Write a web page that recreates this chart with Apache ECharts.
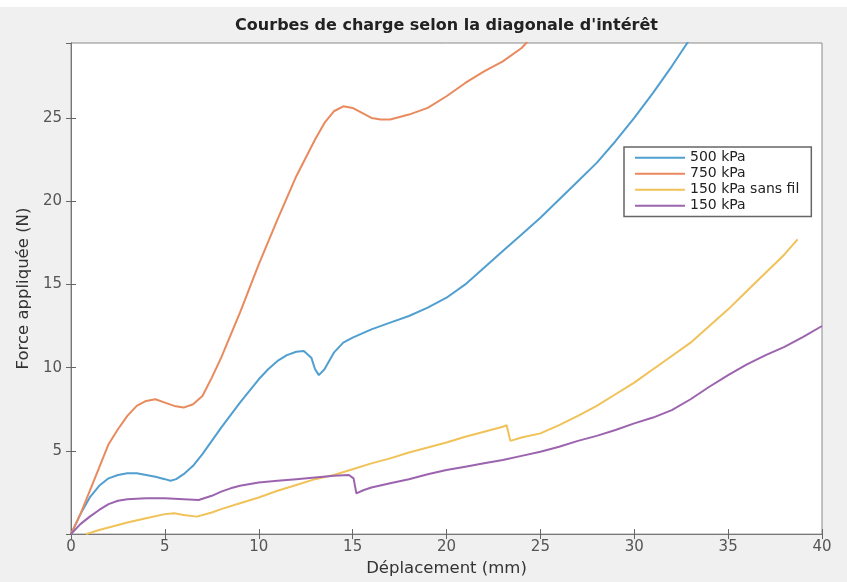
<!DOCTYPE html>
<html>
<head>
<meta charset="utf-8">
<script src="https://cdn.jsdelivr.net/npm/echarts@6/dist/echarts.min.js"></script>
<style>html,body{margin:0;padding:0;background:#f0f0f0}#c{width:847px;height:582px}</style>
</head>
<body>
<div id="c"></div>
<script>
var titleText = "Courbes de charge selon la diagonale d'intérêt";
var xName = "Déplacement (mm)";
var yName = "Force appliquée (N)";
var seriesNames = ["500 kPa", "750 kPa", "150 kPa sans fil", "150 kPa"];
var xTicks = [0, 5, 10, 15, 20, 25, 30, 35, 40];
var yTicks = [5, 10, 15, 20, 25];

var s500 = [[0,0],[0.5,1.2],[1,2.2],[1.5,2.9],[2,3.35],[2.5,3.55],[3,3.65],[3.5,3.65],[4,3.55],[4.5,3.45],[5,3.3],[5.3,3.2],[5.6,3.3],[6,3.6],[6.5,4.1],[7,4.8],[8,6.4],[9,7.9],[10,9.3],[10.5,9.9],[11,10.4],[11.5,10.75],[12,10.95],[12.4,11.0],[12.8,10.6],[13,9.9],[13.2,9.55],[13.5,9.9],[14,10.9],[14.5,11.5],[15,11.8],[16,12.3],[17,12.7],[18,13.1],[19,13.6],[20,14.2],[21,15.0],[22,16.0],[23,17.0],[24,18.0],[25,19.0],[26,20.1],[27,21.2],[28,22.3],[29,23.6],[30,25.0],[31,26.5],[32,28.1],[33,29.8]];
var s750 = [[0,0],[0.5,1.2],[1,2.6],[1.5,4.0],[2,5.4],[2.5,6.3],[3,7.1],[3.5,7.7],[4,8.0],[4.5,8.1],[5,7.9],[5.5,7.7],[6,7.6],[6.5,7.8],[7,8.3],[7.5,9.4],[8,10.6],[9,13.3],[10,16.2],[11,18.9],[12,21.5],[13,23.7],[13.5,24.7],[14,25.4],[14.5,25.7],[15,25.6],[15.5,25.3],[16,25.0],[16.5,24.9],[17,24.9],[18,25.2],[19,25.6],[20,26.3],[21,27.1],[22,27.8],[23,28.4],[24,29.2],[24.5,29.8]];
var s150sf = [[0.8,0],[1.5,0.25],[2,0.4],[3,0.7],[4,0.95],[5,1.2],[5.5,1.25],[6,1.15],[6.7,1.05],[7.5,1.3],[8,1.5],[9,1.85],[10,2.2],[11,2.6],[12,2.95],[13,3.3],[14,3.55],[15,3.9],[16,4.25],[17,4.55],[18,4.9],[19,5.2],[20,5.5],[21,5.85],[22,6.15],[23,6.45],[23.2,6.55],[23.4,5.6],[24,5.8],[25,6.05],[26,6.55],[27,7.1],[28,7.7],[29,8.4],[30,9.1],[31,9.9],[32,10.7],[33,11.5],[34,12.5],[35,13.5],[36,14.6],[37,15.7],[38,16.8],[38.7,17.7]];
var s150 = [[0,0],[0.5,0.6],[1,1.05],[1.5,1.45],[2,1.8],[2.5,2.0],[3,2.1],[4,2.15],[5,2.15],[6,2.1],[6.8,2.05],[7.5,2.3],[8,2.55],[8.5,2.75],[9,2.9],[10,3.1],[11,3.2],[12,3.3],[13,3.4],[14,3.5],[14.8,3.55],[15.05,3.35],[15.2,2.45],[15.6,2.65],[16,2.8],[17,3.05],[18,3.3],[19,3.6],[20,3.85],[21,4.05],[22,4.25],[23,4.45],[24,4.7],[25,4.95],[26,5.25],[27,5.6],[28,5.9],[29,6.25],[30,6.65],[31,7.0],[32,7.45],[33,8.1],[34,8.85],[35,9.55],[36,10.2],[37,10.75],[38,11.25],[39,11.85],[40,12.5]];

var colors = ['#519fd0', '#e98a5e', '#f0c258', '#9c64ae'];
var font = 'DejaVu Sans';
var chart = echarts.init(document.getElementById('c'));
function mkSeries(name, data, i) {
  return {name: name, type: 'line', data: data, symbol: 'none', showSymbol: false,
    lineStyle: {width: 2, color: colors[i]}, itemStyle: {color: colors[i]}, clip: true, z: 3};
}
var tickLabelStyle = {color: '#555', fontFamily: font, fontSize: 15};
chart.setOption({
  backgroundColor: '#f0f0f0',
  animation: false,
  graphic: [{type: 'rect', left: 0, top: 0, shape: {width: 847, height: 7}, style: {fill: '#ffffff'}, silent: true}],
  title: {text: titleText, left: 446.5, textAlign: 'center', top: 18, padding: 0,
    textStyle: {fontFamily: font, fontSize: 16, fontWeight: 'bold', color: '#222'}},
  grid: {left: 71, right: 25, top: 43, bottom: 42, show: true, backgroundColor: '#ffffff', borderColor: '#8a8a8a', borderWidth: 1, containLabel: false},
  legend: {orient: 'vertical', left: 624, top: 147, data: seriesNames,
    icon: 'rect', itemWidth: 50, itemHeight: 2, itemGap: 0.5, padding: [3, 12, 3, 11],
    backgroundColor: '#ffffff', borderColor: '#666', borderWidth: 1.5, borderRadius: 0,
    textStyle: {fontFamily: font, fontSize: 14, lineHeight: 15.5, color: '#222'}},
  xAxis: [
    {type: 'value', min: 0, max: 40, interval: 5, position: 'bottom',
      name: xName, nameLocation: 'middle', nameGap: 20,
      nameTextStyle: {fontFamily: font, fontSize: 16.5, color: '#333'},
      axisLine: {show: true, lineStyle: {color: '#777', width: 1}},
      axisTick: {show: true, inside: true, length: 5, lineStyle: {color: '#666'}},
      axisLabel: Object.assign({margin: 6, formatter: function(v){return xTicks.indexOf(v) >= 0 ? String(v) : '';}}, tickLabelStyle),
      splitLine: {show: false}},
    {type: 'value', min: 0, max: 40, interval: 5, position: 'top',
      axisLine: {show: true, lineStyle: {color: '#777'}},
      axisTick: {show: true, inside: true, length: 5, lineStyle: {color: '#666'}},
      axisLabel: {show: false}, splitLine: {show: false}}
  ],
  yAxis: [
    {type: 'value', min: 0, max: 29.5, interval: 5, position: 'left',
      name: yName, nameLocation: 'middle', nameGap: 25,
      nameTextStyle: {fontFamily: font, fontSize: 16.5, color: '#333'},
      axisLine: {show: true, lineStyle: {color: '#777', width: 1}},
      axisTick: {show: true, inside: true, length: 5, lineStyle: {color: '#666'}},
      axisLabel: Object.assign({margin: 9, showMinLabel: false, showMaxLabel: false, formatter: function(v){return yTicks.indexOf(v) >= 0 ? String(v) : '';}}, tickLabelStyle),
      splitLine: {show: false}},
    {type: 'value', min: 0, max: 29.5, interval: 5, position: 'right',
      axisLine: {show: true, lineStyle: {color: '#777'}},
      axisTick: {show: true, inside: true, length: 5, lineStyle: {color: '#666'}},
      axisLabel: {show: false}, splitLine: {show: false}}
  ],
  series: [
    mkSeries(seriesNames[0], s500, 0),
    mkSeries(seriesNames[1], s750, 1),
    mkSeries(seriesNames[2], s150sf, 2),
    mkSeries(seriesNames[3], s150, 3)
  ]
});
</script>
</body>
</html>
